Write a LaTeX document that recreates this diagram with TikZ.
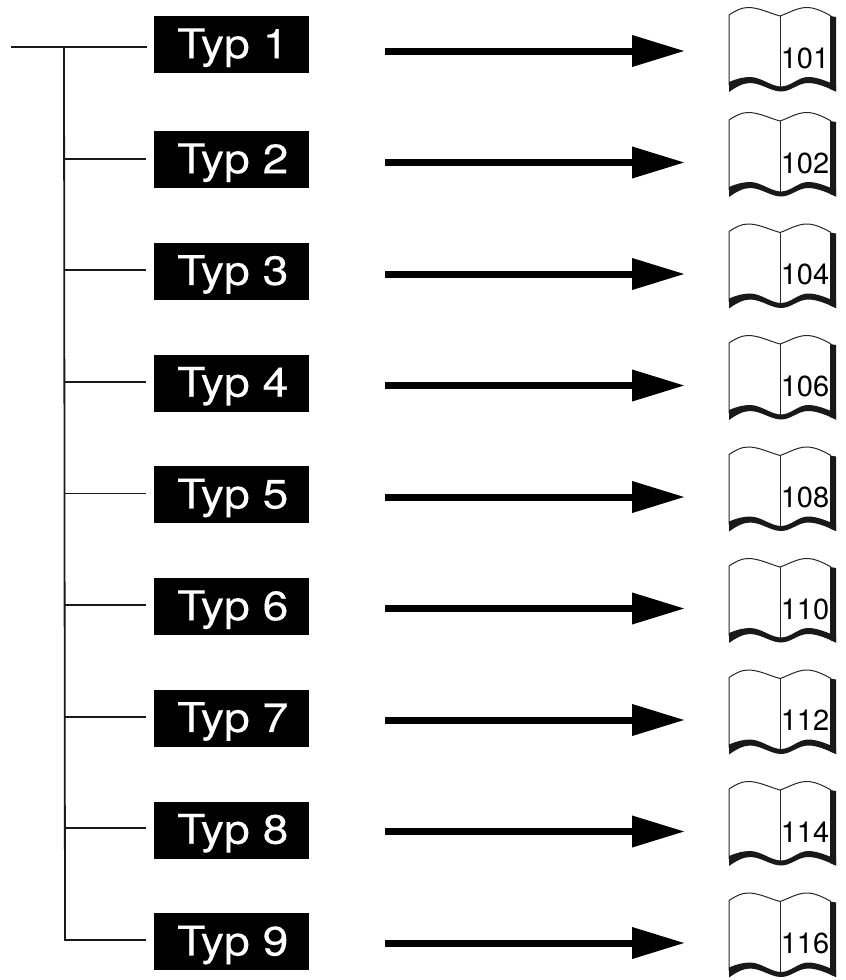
\documentclass[tikz,border=0pt]{standalone}
\usepackage{fontspec}
\setmainfont{TeX Gyre Heros}
\newfontfamily\typfont[FakeStretch=1.13,FakeBold=0.25]{TeX Gyre Heros}
\usetikzlibrary{arrows.meta}
\tikzset{
  x=1pt,y=-1pt,
  typbox/.style={fill=black,text=white,inner sep=0pt,minimum width=155pt,text height=42pt,text depth=15pt,anchor=north west,font=\typfont\fontsize{41}{41}\selectfont},
  branch/.style={line width=1.8pt,black!90},
  bigarrow/.style={line width=7pt,-{Triangle[length=53pt,width=30pt]},shorten >=0pt},
  pagenum/.style={font=\fontsize{29}{29}\selectfont,inner sep=0pt,anchor=base},
  bookline/.style={line width=1pt,black!85},
}
\newcommand{\bookat}[3]{%
 \begin{scope}[shift={(729,#1)}]
  \draw[bookline] (0,78) -- (0,8) .. controls (6,4) and (12,0.5) .. (19,0.5) .. controls (30,0.5) and (40,6) .. (51,9)
     .. controls (60,6) and (68,0.5) .. (78,0.5) .. controls (86,0.5) and (95,5) .. (102,9);
  \draw[bookline] (51,9) -- (51,80);
  \fill[black!90] (101,9) -- (107,10) -- (107,84.5) -- (101,82) -- cycle;
  \fill[black!90] (0,75) .. controls (7,72) and (14,70) .. (21,70) .. controls (32,70) and (42,79.5) .. (52,79.5)
     .. controls (62,79.5) and (69,70) .. (79,70) .. controls (88,70) and (97,74) .. (107,78) -- (107,84.5)
     .. controls (97,80) and (88,76) .. (79,76) .. controls (69,76) and (62,84.5) .. (52,84.5)
     .. controls (42,84.5) and (32,76) .. (21,76) .. controls (14,76) and (7,80) .. (0,85) -- cycle;
  \node[pagenum] (#3) at (76,61) {#2};
 \end{scope}}
\begin{document}
\begin{tikzpicture}
\useasboundingbox (0,0) rectangle (846,980);
\coordinate (start) at (11,47);
\coordinate (j1) at (64,47);
\coordinate (e1) at (147,47);
\node[typbox] (t1) at (154,16) {\makebox[155pt][l]{\kern23pt Typ 1}};
\draw[branch] (start) -- (e1);
\foreach \i/\n in {2/102,3/104,4/106,5/108,6/110,7/112,8/114,9/116}{
  \pgfmathsetmacro{\yb}{131+111.75*(\i-2)}
  \pgfmathsetmacro{\yl}{158.7+111.6*(\i-2)}
  \node[typbox] (t\i) at (154,\yb) {\makebox[155pt][l]{\kern23pt Typ \i}};
  \coordinate (j\i) at (65,\yl);
  \coordinate (e\i) at (146,\yl);
  \draw[branch] (j\i) -- (e\i);
  \pgfmathsetmacro{\yt}{113+111.5*(\i-2)-1}
  \bookat{\yt}{\n}{p\i}
}
\draw[branch,line cap=rect] (j1) -- (j9);
\bookat{7}{101}{p1}
\foreach \i in {1,...,9}{
  \pgfmathsetmacro{\ya}{51+111.5*(\i-1)}
  \coordinate (a\i) at (385,\ya);
  \coordinate (b\i) at (685,\ya);
  \draw[bigarrow] (a\i) -- (b\i);
}
\end{tikzpicture}
\end{document}
